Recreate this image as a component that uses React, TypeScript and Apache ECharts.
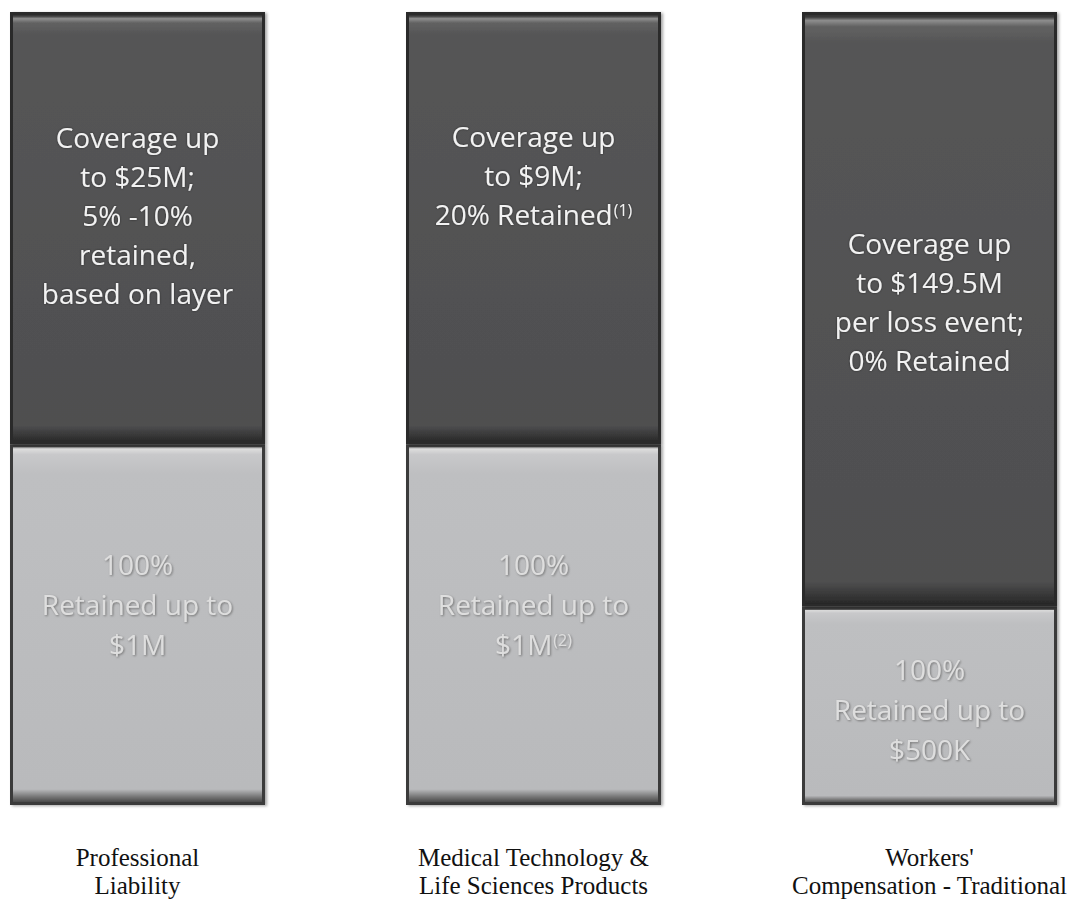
import React, { useEffect, useRef } from "react";
import * as echarts from "echarts";

// ---- data (schematic layer heights, share of bar height) ----
const categories = [
  "Professional\nLiability",
  "Medical Technology &\nLife Sciences Products",
  "Workers'\nCompensation - Traditional",
];
const retainedLayer = [45.5, 45.5, 25];
const coverageLayer = [54.5, 54.5, 75];
const retainedText = [
  "100%\nRetained up to\n$1M",
  "100%\nRetained up to\n$1M{sup|(2)}",
  "100%\nRetained up to\n$500K",
];
const coverageText = [
  "Coverage up\nto $25M;\n5% -10%\nretained,\nbased on layer",
  "Coverage up\nto $9M;\n20% Retained{sup|(1)}",
  "Coverage up\nto $149.5M\nper loss event;\n0% Retained",
];

// ---- layout / style ----
const retainedLabelDy = [-21, -21, 3];
const coverageLabelDy = [-13, -53, -8];

const darkFill = new echarts.graphic.LinearGradient(0, 0, 0, 1, [
  { offset: 0, color: "#2e2e2e" },
  { offset: 0.006, color: "#3a3a3a" },
  { offset: 0.012, color: "#8e8e8e" },
  { offset: 0.022, color: "#626262" },
  { offset: 0.05, color: "#555556" },
  { offset: 0.96, color: "#4f4f50" },
  { offset: 0.985, color: "#353535" },
  { offset: 1, color: "#262626" },
]);
const lightFill = new echarts.graphic.LinearGradient(0, 0, 0, 1, [
  { offset: 0, color: "#7a7a7a" },
  { offset: 0.01, color: "#dcdcdc" },
  { offset: 0.025, color: "#c8c8ca" },
  { offset: 0.08, color: "#bebfc1" },
  { offset: 0.96, color: "#b9babc" },
  { offset: 0.985, color: "#6a6a6a" },
  { offset: 1, color: "#404040" },
]);

export default function App() {
  const ref = useRef<HTMLDivElement>(null);
  useEffect(() => {
    if (!ref.current) return;
    const chart = echarts.init(ref.current, null, { renderer: "svg" });
    const innerFont = "'Open Sans', 'Noto Sans', sans-serif";
    chart.setOption({
      animation: false,
      backgroundColor: "#ffffff",
      grid: { left: 137.5, right: 150.5, top: 12, bottom: 89, containLabel: false },
      xAxis: {
        type: "category",
        data: categories,
        boundaryGap: false,
        axisLine: { show: false },
        axisTick: { show: false },
        splitLine: { show: false },
        axisLabel: {
          margin: 38,
          fontFamily: "'Liberation Serif', 'Times New Roman', serif",
          fontSize: 25,
          lineHeight: 28,
          color: "#111111",
          interval: 0,
          align: "center",
        },
      },
      yAxis: {
        type: "value",
        min: 0,
        max: 100,
        show: false,
        splitLine: { show: false },
      },
      series: [
        {
          type: "bar",
          name: "Retained",
          stack: "total",
          clip: false,
          barWidth: 255,
          data: retainedLayer.map((v, i) => ({
            value: v,
            label: { offset: [0, retainedLabelDy[i]] },
          })),
          itemStyle: {
            color: lightFill,
            borderColor: "#3a3a3a",
            borderWidth: 3,
            shadowColor: "rgba(0,0,0,0.35)",
            shadowBlur: 3,
            shadowOffsetX: 2,
            shadowOffsetY: 1,
          },
          label: {
            show: true,
            position: "inside",
            formatter: (p: any) => retainedText[p.dataIndex],
            fontFamily: innerFont,
            fontSize: 28,
            lineHeight: 40,
            color: "#dedede",
            textShadowColor: "rgba(110,110,110,0.9)",
            textShadowBlur: 2,
            textShadowOffsetX: 1,
            textShadowOffsetY: 1,
            align: "center",
            rich: {
              sup: {
                fontFamily: innerFont,
                fontSize: 16,
                padding: [0, 0, 8, 1],
                color: "#dedede",
                textShadowColor: "rgba(110,110,110,0.9)",
                textShadowBlur: 2,
              },
            },
          },
          emphasis: { disabled: true },
        },
        {
          type: "bar",
          name: "Coverage",
          stack: "total",
          clip: false,
          barWidth: 255,
          data: coverageLayer.map((v, i) => ({
            value: v,
            label: { offset: [0, coverageLabelDy[i]] },
          })),
          itemStyle: {
            color: darkFill,
            borderColor: "#2a2a2a",
            borderWidth: 3,
            shadowColor: "rgba(0,0,0,0.35)",
            shadowBlur: 3,
            shadowOffsetX: 2,
            shadowOffsetY: 1,
          },
          label: {
            show: true,
            position: "inside",
            formatter: (p: any) => coverageText[p.dataIndex],
            fontFamily: innerFont,
            fontSize: 28,
            lineHeight: 39,
            color: "#f2f2f2",
            textShadowColor: "rgba(0,0,0,0.5)",
            textShadowBlur: 2,
            align: "center",
            rich: {
              sup: {
                fontFamily: innerFont,
                fontSize: 16,
                padding: [0, 0, 8, 1],
                color: "#f2f2f2",
              },
            },
          },
          emphasis: { disabled: true },
        },
      ],
    });
    return () => chart.dispose();
  }, []);
  return (
    <div
      ref={ref}
      style={{ position: "absolute", left: 0, top: 0, width: 1080, height: 899 }}
    />
  );
}
